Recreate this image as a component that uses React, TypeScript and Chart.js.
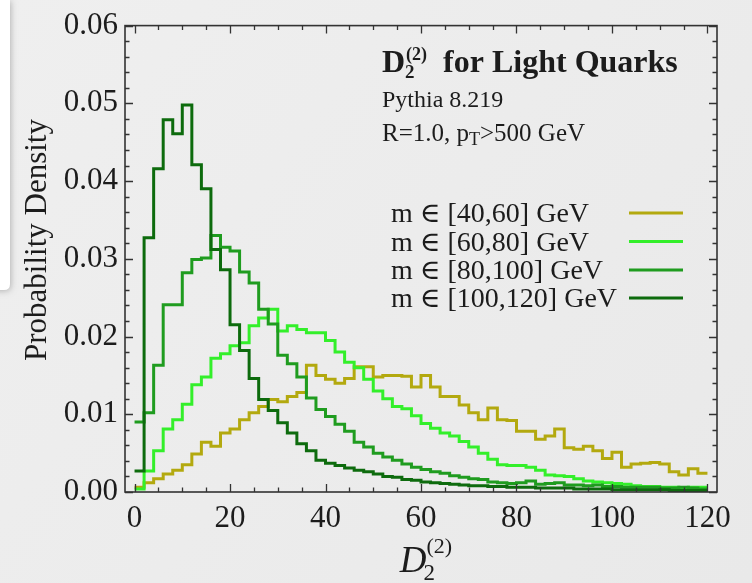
import React, { useEffect, useRef } from "react";
import { Chart, registerables } from "chart.js";

Chart.register(...registerables);

// ---------- data ----------
const BIN_WIDTH = 2;
const BIN_STARTS: number[] = Array.from({ length: 60 }, (_, i) => i * BIN_WIDTH); // 0..118
const HIST_END = 120;

const SERIES_LABELS = [
  "m \u2208 [40,60] GeV",
  "m \u2208 [60,80] GeV",
  "m \u2208 [80,100] GeV",
  "m \u2208 [100,120] GeV",
];
const SERIES_COLORS = ["#b3a90f", "#33ef2a", "#1f9c1f", "#0d6b0d"];

const M40_60 = [
  0.0006, 0.0012, 0.0017, 0.0023, 0.0028, 0.0035, 0.0049, 0.0064, 0.0059, 0.0076,
  0.0081, 0.0093, 0.0102, 0.011, 0.0119, 0.0116, 0.0123, 0.0128, 0.0163, 0.015,
  0.0145, 0.014, 0.0146, 0.0161, 0.0161, 0.0148, 0.015, 0.015, 0.0149, 0.0135,
  0.015, 0.0135, 0.0123, 0.0123, 0.0112, 0.0102, 0.0093, 0.0108, 0.0093, 0.0092,
  0.0078, 0.0078, 0.0068, 0.0072, 0.0081, 0.0057, 0.0055, 0.0059, 0.0053, 0.0043,
  0.0051, 0.0032, 0.0036, 0.0037, 0.0038, 0.0036, 0.0026, 0.0022, 0.003, 0.0024,
];
const M60_80 = [
  0.0004, 0.0027, 0.0053, 0.0081, 0.0093, 0.0113, 0.0138, 0.0148, 0.0172, 0.0178,
  0.0188, 0.0192, 0.0214, 0.0224, 0.0235, 0.0207, 0.0214, 0.0209, 0.0205, 0.0205,
  0.0195, 0.018, 0.0167, 0.016, 0.0145, 0.013, 0.012, 0.011, 0.0107, 0.0098,
  0.0088, 0.0082, 0.0076, 0.0072, 0.0065, 0.0058, 0.005, 0.0042, 0.0035, 0.0034,
  0.0034, 0.0032, 0.0028, 0.0022, 0.0021, 0.002, 0.0017, 0.0014, 0.0013, 0.0012,
  0.0011, 0.001, 0.0008, 0.0007, 0.0007, 0.0006, 0.0006, 0.0005, 0.0006, 0.0006,
];
const M80_100 = [
  0.009, 0.0102, 0.0163, 0.0241, 0.0241, 0.0282, 0.0299, 0.0301, 0.033, 0.0315,
  0.031, 0.0283, 0.0269, 0.0235, 0.0216, 0.0176, 0.0165, 0.0148, 0.0121, 0.0106,
  0.0097, 0.0087, 0.0078, 0.0064, 0.0058, 0.005, 0.0045, 0.0041, 0.0036, 0.0032,
  0.0029, 0.0026, 0.0024, 0.0021, 0.0019, 0.0017, 0.0016, 0.0013, 0.0012, 0.0011,
  0.0012, 0.0014, 0.001, 0.0011, 0.0012, 0.0009, 0.0009, 0.0008, 0.0009, 0.0007,
  0.0007, 0.0006, 0.0006, 0.0006, 0.0006, 0.0005, 0.0005, 0.0006, 0.0005, 0.0004,
];
const M100_120 = [
  0.0027, 0.0327, 0.0416, 0.0479, 0.0461, 0.0498, 0.0421, 0.039, 0.0312, 0.0286,
  0.0215, 0.0182, 0.0146, 0.0119, 0.0105, 0.0089, 0.0076, 0.0062, 0.0053, 0.0041,
  0.0037, 0.0034, 0.0031, 0.0028, 0.0026, 0.0023, 0.002, 0.0019, 0.0016, 0.0015,
  0.0013, 0.0012, 0.0011, 0.001, 0.0009, 0.0008, 0.0008, 0.0007, 0.0007, 0.0006,
  0.0006, 0.0006, 0.0005, 0.0005, 0.0005, 0.0005, 0.0004, 0.0004, 0.0004, 0.0004,
  0.0003, 0.0003, 0.0003, 0.0003, 0.0003, 0.0003, 0.0002, 0.0002, 0.0002, 0.0002,
];
const SERIES = [M40_60, M60_80, M80_100, M100_120];

const X_TICKS = [0, 20, 40, 60, 80, 100, 120];
const X_MINOR_STEP = 5;
const Y_TICKS = [0, 0.01, 0.02, 0.03, 0.04, 0.05, 0.06];
const Y_MINOR_STEP = 0.002;

const SERIF = "'Liberation Serif', 'DejaVu Serif', serif";
const INK = "#1c1c1c";

function histPoints(values: number[]) {
  const pts = BIN_STARTS.map((x, i) => ({ x, y: values[i] }));
  pts.push({ x: HIST_END, y: values[values.length - 1] });
  return pts;
}

const backgroundPlugin = {
  id: "bg",
  beforeDraw(chart: any) {
    const { ctx, width, height } = chart;
    ctx.save();
    const g = ctx.createLinearGradient(0, 0, width, height);
    g.addColorStop(0, "#efefef");
    g.addColorStop(1, "#e9e9e9");
    ctx.fillStyle = g;
    ctx.fillRect(0, 0, width, height);
    // white slide panel at left edge
    ctx.shadowColor = "rgba(0,0,0,0.25)";
    ctx.shadowBlur = 6;
    ctx.shadowOffsetX = 1;
    ctx.shadowOffsetY = 1;
    ctx.fillStyle = "#ffffff";
    ctx.beginPath();
    ctx.moveTo(-10, 0);
    ctx.lineTo(10, 0);
    ctx.lineTo(10, 284);
    ctx.quadraticCurveTo(10, 290, 4, 290);
    ctx.lineTo(-10, 290);
    ctx.closePath();
    ctx.fill();
    ctx.restore();
  },
};

const framePlugin = {
  id: "frame",
  afterDatasetsDraw(chart: any) {
    const { ctx, chartArea: a, scales } = chart;
    const xs = scales.x;
    const ys = scales.y;
    ctx.save();
    ctx.strokeStyle = "#333";
    ctx.lineWidth = 1.6;
    ctx.strokeRect(a.left, a.top, a.right - a.left, a.bottom - a.top);
    ctx.lineWidth = 1.3;
    ctx.beginPath();
    const xMax = X_TICKS[X_TICKS.length - 1];
    for (let v = X_TICKS[0]; v <= xMax + 1e-9; v += X_MINOR_STEP) {
      const major = X_TICKS.some((t) => Math.abs(t - v) < 1e-9);
      const len = major ? 8 : 4.5;
      const px = Math.round(xs.getPixelForValue(v)) + 0.5;
      ctx.moveTo(px, a.bottom);
      ctx.lineTo(px, a.bottom - len);
      ctx.moveTo(px, a.top);
      ctx.lineTo(px, a.top + len);
    }
    const yMax = Y_TICKS[Y_TICKS.length - 1];
    for (let k = 0; k * Y_MINOR_STEP <= yMax + 1e-9; k++) {
      const v = k * Y_MINOR_STEP;
      const major = Y_TICKS.some((t) => Math.abs(t - v) < 1e-9);
      const len = major ? 8 : 4.5;
      const py = Math.round(ys.getPixelForValue(v)) + 0.5;
      ctx.moveTo(a.left, py);
      ctx.lineTo(a.left + len, py);
      ctx.moveTo(a.right, py);
      ctx.lineTo(a.right - len, py);
    }
    ctx.stroke();
    ctx.restore();
  },
};

const textPlugin = {
  id: "texts",
  afterDraw(chart: any) {
    const { ctx, chartArea: a } = chart;
    ctx.save();
    ctx.fillStyle = INK;
    ctx.textBaseline = "alphabetic";
    ctx.textAlign = "left";

    // title: D_2^(2)  for Light Quarks
    let x = 382;
    const by = 72;
    ctx.font = `bold 32px ${SERIF}`;
    ctx.fillText("D", x, by);
    x += ctx.measureText("D").width;
    ctx.font = `bold 19px ${SERIF}`;
    ctx.fillText("2", x, by + 6);
    ctx.font = `bold 18px ${SERIF}`;
    ctx.fillText("(2)", x + 1, by - 12);
    x += ctx.measureText("(2)").width + 1;
    ctx.font = `bold 32px ${SERIF}`;
    ctx.fillText("  for Light Quarks", x, by);

    // subtitles
    ctx.font = `24px ${SERIF}`;
    ctx.fillText("Pythia 8.219", 382, 107);
    let rx = 382;
    const ry = 141;
    ctx.font = `25px ${SERIF}`;
    ctx.fillText("R=1.0, p", rx, ry);
    rx += ctx.measureText("R=1.0, p").width;
    ctx.font = `18px ${SERIF}`;
    ctx.fillText("T", rx, ry + 4);
    rx += ctx.measureText("T").width;
    ctx.font = `25px ${SERIF}`;
    ctx.fillText(">500 GeV", rx, ry);

    // legend
    const rowY = [213, 241.5, 270, 298];
    SERIES_LABELS.forEach((lab, i) => {
      ctx.font = `28px ${SERIF}`;
      ctx.fillStyle = INK;
      ctx.fillText(lab, 391, rowY[i] + 9);
      ctx.strokeStyle = SERIES_COLORS[i];
      ctx.lineWidth = 3;
      ctx.beginPath();
      ctx.moveTo(629, rowY[i]);
      ctx.lineTo(683, rowY[i]);
      ctx.stroke();
    });

    // y axis title
    ctx.save();
    ctx.translate(46, 240);
    ctx.rotate(-Math.PI / 2);
    ctx.textAlign = "center";
    ctx.font = `31px ${SERIF}`;
    ctx.fillStyle = INK;
    ctx.fillText("Probability Density", 0, 0);
    ctx.restore();

    // x axis title: D_2^(2)
    ctx.fillStyle = INK;
    ctx.font = `italic 37px ${SERIF}`;
    const dW = ctx.measureText("D").width;
    ctx.font = `22px ${SERIF}`;
    const supW = ctx.measureText("(2)").width;
    const total = dW + supW;
    const cx = 426;
    let tx = cx - total / 2;
    const ty = 572;
    ctx.font = `italic 37px ${SERIF}`;
    ctx.fillText("D", tx, ty);
    tx += dW;
    ctx.font = `23px ${SERIF}`;
    ctx.fillText("2", tx - 3, ty + 8);
    ctx.font = `22px ${SERIF}`;
    ctx.fillText("(2)", tx, ty - 19);

    ctx.restore();
  },
};

export default function App() {
  const canvasRef = useRef<HTMLCanvasElement | null>(null);

  useEffect(() => {
    document.body.style.margin = "0";
    const canvas = canvasRef.current;
    if (!canvas) return;

    const datasets = SERIES.map((vals, i) => ({
      label: SERIES_LABELS[i],
      data: histPoints(vals),
      borderColor: SERIES_COLORS[i],
      backgroundColor: SERIES_COLORS[i],
      borderWidth: 3,
      stepped: "before" as const,
      pointRadius: 0,
      fill: false,
      order: SERIES.length - i,
    }));

    const chart = new Chart(canvas, {
      type: "line",
      data: { datasets },
      options: {
        animation: false,
        responsive: false,
        maintainAspectRatio: false,
        layout: { padding: { left: 0, top: 18, right: 35, bottom: 0 } },
        plugins: {
          legend: { display: false },
          tooltip: { enabled: false },
          title: { display: false },
        },
        scales: {
          x: {
            type: "linear",
            min: -2,
            max: 122,
            grid: { display: false, drawTicks: false },
            border: { display: false },
            afterBuildTicks: (s: any) => {
              s.ticks = X_TICKS.map((v) => ({ value: v }));
            },
            afterFit: (s: any) => {
              s.height = 91;
            },
            ticks: {
              padding: 8,
              color: INK,
              font: { family: SERIF, size: 31 },
              maxRotation: 0,
              autoSkip: false,
              callback: (v: any) => String(v),
            },
          },
          y: {
            type: "linear",
            min: 0,
            max: 0.06,
            grid: { display: false, drawTicks: false },
            border: { display: false },
            afterBuildTicks: (s: any) => {
              s.ticks = Y_TICKS.map((v) => ({ value: v }));
            },
            afterFit: (s: any) => {
              s.width = 125;
            },
            ticks: {
              padding: 7,
              color: INK,
              font: { family: SERIF, size: 31 },
              autoSkip: false,
              callback: (v: any) => Number(v).toFixed(2),
            },
          },
        },
      },
      plugins: [backgroundPlugin, framePlugin, textPlugin],
    });

    return () => chart.destroy();
  }, []);

  return (
    <div style={{ width: 752, height: 583 }}>
      <canvas ref={canvasRef} width={752} height={583} style={{ display: "block" }} />
    </div>
  );
}
